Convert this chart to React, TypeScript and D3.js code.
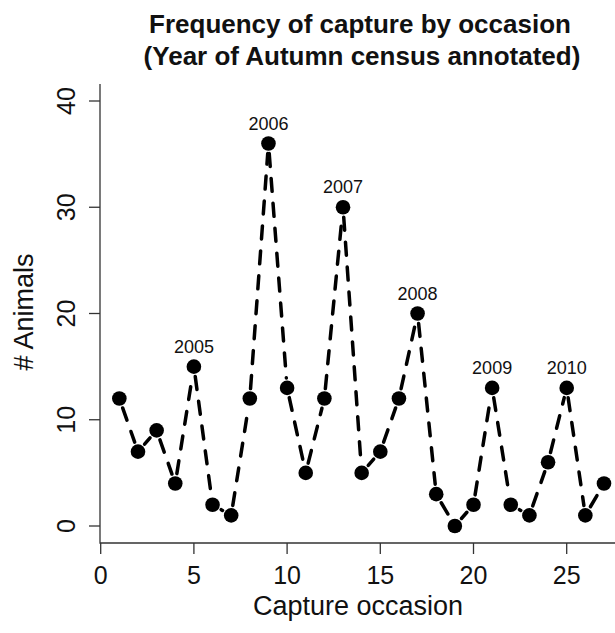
import React, { useEffect, useRef } from 'react';
import { scaleLinear, select, line } from 'd3';

// capture counts per occasion
const occasions = [1, 2, 3, 4, 5, 6, 7, 8, 9, 10, 11, 12, 13, 14, 15, 16, 17, 18, 19, 20, 21, 22, 23, 24, 25, 26, 27];
const animals = [12, 7, 9, 4, 15, 2, 1, 12, 36, 13, 5, 12, 30, 5, 7, 12, 20, 3, 0, 2, 13, 2, 1, 6, 13, 1, 4];

// autumn census occasions and their year labels
const censusOccasions = [5, 9, 13, 17, 21, 25];
const censusYears = ['2005', '2006', '2007', '2008', '2009', '2010'];

const xTicks = [0, 5, 10, 15, 20, 25];
const yTicks = [0, 10, 20, 30, 40];

const width = 615;
const height = 633;
const font = '"Liberation Sans", Arial, Helvetica, sans-serif';

export default function App() {
  const svgRef = useRef<SVGSVGElement>(null);

  useEffect(() => {
    const svg = select(svgRef.current);
    svg.selectAll('*').remove();

    const x = scaleLinear().domain([0, 25]).range([100.7, 566.7]);
    const y = scaleLinear().domain([0, 40]).range([526, 101]);

    const plotLeft = 100;
    const plotBottom = 543;
    const plotTop = 84;

    // L shaped box
    svg.append('path')
      .attr('d', `M${plotLeft},${plotTop}V${plotBottom}H${width}`)
      .attr('fill', 'none')
      .attr('stroke', '#333')
      .attr('stroke-width', 1.3);

    // x axis ticks + labels
    const xg = svg.append('g');
    xg.selectAll('line')
      .data(xTicks)
      .enter()
      .append('line')
      .attr('x1', d => x(d)).attr('x2', d => x(d))
      .attr('y1', plotBottom).attr('y2', plotBottom + 11)
      .attr('stroke', '#333').attr('stroke-width', 1.3);
    xg.selectAll('text')
      .data(xTicks)
      .enter()
      .append('text')
      .attr('x', d => x(d))
      .attr('y', 584)
      .attr('text-anchor', 'middle')
      .attr('font-size', 25)
      .attr('font-family', font)
      .attr('fill', '#111')
      .text(d => String(d));

    // y axis ticks + rotated labels
    const yg = svg.append('g');
    yg.selectAll('line')
      .data(yTicks)
      .enter()
      .append('line')
      .attr('x1', plotLeft - 11).attr('x2', plotLeft)
      .attr('y1', d => y(d)).attr('y2', d => y(d))
      .attr('stroke', '#333').attr('stroke-width', 1.3);
    yg.selectAll('text')
      .data(yTicks)
      .enter()
      .append('text')
      .attr('transform', d => `translate(75,${y(d)}) rotate(-90)`)
      .attr('text-anchor', 'middle')
      .attr('font-size', 25)
      .attr('font-family', font)
      .attr('fill', '#111')
      .text(d => String(d));

    // dashed connecting lines, gapped round the points (type = "b")
    const pts = occasions.map((o, i) => [x(o), y(animals[i])] as [number, number]);
    const gap = 10;
    const segs: [number, number][][] = [];
    for (let i = 0; i < pts.length - 1; i++) {
      const [x0, y0] = pts[i];
      const [x1, y1] = pts[i + 1];
      const len = Math.hypot(x1 - x0, y1 - y0);
      if (len <= 2 * gap) continue;
      const ux = (x1 - x0) / len;
      const uy = (y1 - y0) / len;
      segs.push([[x0 + ux * gap, y0 + uy * gap], [x1 - ux * gap, y1 - uy * gap]]);
    }
    svg.append('g')
      .selectAll('path')
      .data(segs)
      .enter()
      .append('path')
      .attr('d', d => line()(d))
      .attr('fill', 'none')
      .attr('stroke', '#000')
      .attr('stroke-width', 3.5)
      .attr('stroke-dasharray', '13 12')
      .attr('stroke-linecap', 'round');

    // points
    svg.append('g')
      .selectAll('circle')
      .data(animals)
      .enter()
      .append('circle')
      .attr('cx', (d, i) => x(occasions[i]))
      .attr('cy', d => y(d))
      .attr('r', 7.3)
      .attr('fill', '#000');

    // year annotations
    svg.append('g')
      .selectAll('text')
      .data(censusOccasions)
      .enter()
      .append('text')
      .attr('x', d => x(d))
      .attr('y', d => y(animals[occasions.indexOf(d)]) - 14)
      .attr('text-anchor', 'middle')
      .attr('font-size', 18)
      .attr('font-family', font)
      .attr('fill', '#111')
      .text((d, i) => censusYears[i]);

    // titles
    const title = svg.append('text')
      .attr('text-anchor', 'middle')
      .attr('font-size', 26)
      .attr('font-weight', 'bold')
      .attr('font-family', font)
      .attr('fill', '#111');
    title.append('tspan').attr('x', 360).attr('y', 33).text('Frequency of capture by occasion');
    title.append('tspan').attr('x', 362).attr('y', 65).text('(Year of Autumn census annotated)');

    svg.append('text')
      .attr('x', 358)
      .attr('y', 615)
      .attr('text-anchor', 'middle')
      .attr('font-size', 27)
      .attr('font-family', font)
      .attr('fill', '#111')
      .text('Capture occasion');

    svg.append('text')
      .attr('transform', `translate(33,312) rotate(-90)`)
      .attr('text-anchor', 'middle')
      .attr('font-size', 27)
      .attr('font-family', font)
      .attr('fill', '#111')
      .text('# Animals');
  }, []);

  return (
    <svg
      ref={svgRef}
      width={width}
      height={height}
      style={{ position: 'absolute', left: 0, top: 0, background: '#fff' }}
    />
  );
}
